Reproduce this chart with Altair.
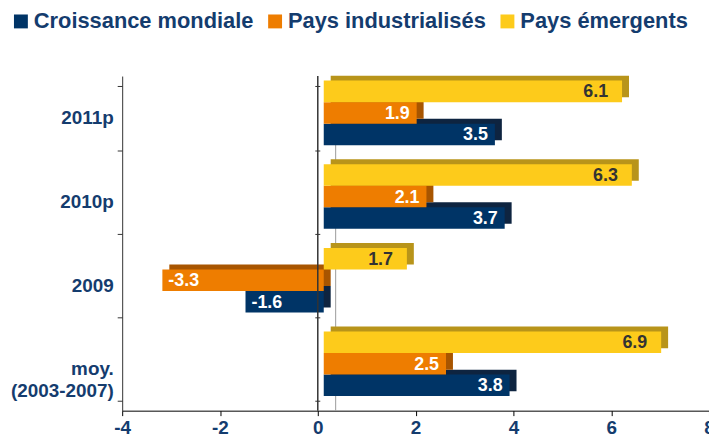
import altair as alt
import pandas as pd

categories = ["2011p", "2010p", "2009", "moy. (2003-2007)"]
series = ["Croissance mondiale", "Pays industrialisés", "Pays émergents"]
croissance = [3.5, 3.7, -1.6, 3.8]
industrialises = [1.9, 2.1, -3.3, 2.5]
emergents = [6.1, 6.3, 1.7, 6.9]
x_ticks = [-4, -2, 0, 2, 4, 6, 8]

colors = ["#003466", "#EE7D00", "#FDCB1B"]
shadow_colors = ["#0E2440", "#A85500", "#B8941A"]
NAVY_TXT = "#143C6E"
FONT = "Liberation Sans"

rows = []
for s, vals in zip(series, [croissance, industrialises, emergents]):
    for c, v in zip(categories, vals):
        rows.append({"cat": c, "series": s, "value": v, "label": f"{v:.1f}"})
df = pd.DataFrame(rows)
zero_df = pd.DataFrame({"z": [0]})

stack_order = ["Pays émergents", "Pays industrialisés", "Croissance mondiale"]

x_enc = alt.X("value:Q", scale=alt.Scale(domain=[-4, 8], nice=False),
              axis=alt.Axis(values=x_ticks, title=None, grid=False,
                            labelExpr="'' + datum.value",
                            labelFontSize=19, labelFont=FONT, labelFontWeight="bold",
                            labelColor=NAVY_TXT, domainColor="#000", tickColor="#000",
                            tickSize=5, labelPadding=3, labelFlush=False))
y_scale = alt.Scale(paddingInner=0.228, paddingOuter=0.114)
y_main = alt.Y("cat:N", sort=categories, scale=y_scale,
               axis=alt.Axis(title=None, orient="left", labelFontSize=19, labelFont=FONT,
                             labelFontWeight="bold", labelColor=NAVY_TXT,
                             domainColor="#333", tickColor="#333", tickSize=5,
                             labelPadding=4, tickBand="extent", labelLineHeight=22,
                             labelExpr="datum.label == 'moy. (2003-2007)' ? ['moy.', '(2003-2007)'] : datum.label"))
y_zero_axis = alt.Y("cat:N", sort=categories, scale=y_scale,
                    axis=alt.Axis(title=None, orient="left", offset=-199, labels=False,
                                  domain=False, tickColor="#333", tickSize=5, tickBand="extent"))
y_plain = alt.Y("cat:N", sort=categories, scale=y_scale, axis=None)


def yoff(rng):
    return alt.YOffset("series:N", sort=stack_order,
                       scale=alt.Scale(domain=stack_order, paddingInner=0, paddingOuter=0, range=rng))


FRONT_RANGE = [-5, 60]
SHADOW_RANGE = [-10, 55]
TEXT_RANGE = [5.8, 49.2]

base = alt.Chart(df)

gray_rule = alt.Chart(zero_df).mark_rule(color="#9a9a9a", strokeWidth=1, xOffset=18).encode(
    x=alt.X("z:Q"))

shadow = base.mark_bar(xOffset=13, x2Offset=13).encode(
    x=x_enc, y=y_plain, yOffset=yoff(SHADOW_RANGE),
    color=alt.Color("series:N", scale=alt.Scale(domain=series, range=shadow_colors), legend=None))

front = base.mark_bar(xOffset=6, x2Offset=6).encode(
    x=x_enc, y=y_main, yOffset=yoff(FRONT_RANGE),
    color=alt.Color("series:N", scale=alt.Scale(domain=series, range=colors),
                    legend=alt.Legend(title=None, orient="none", direction="horizontal",
                                      legendX=-113, legendY=-66, symbolType="square",
                                      symbolSize=196, symbolStrokeWidth=0,
                                      labelFontSize=22, labelFont=FONT, labelLimit=0,
                                      labelFontWeight="bold", labelColor=NAVY_TXT,
                                      labelOffset=2, columnPadding=10, padding=0)))

zero_ticks = base.mark_bar(opacity=0).encode(
    x=alt.X("value:Q"), y=y_zero_axis)

txt_color = alt.condition(alt.datum.series == "Pays émergents", alt.value("#333333"), alt.value("white"))


def labels(filt, align, dx):
    return base.transform_filter(filt).mark_text(
        align=align, baseline="middle", dx=dx, dy=1, fontSize=18, font=FONT, fontWeight="bold").encode(
        x=alt.X("value:Q"), y=y_plain, yOffset=yoff(TEXT_RANGE),
        text=alt.Text("label:N"), color=txt_color)


lab_pos = labels("datum.value > 0 && datum.series != 'Pays émergents'", "right", -1)
lab_yel = labels("datum.value > 0 && datum.series == 'Pays émergents'", "right", -8)
lab_neg = labels("datum.value < 0", "left", 12)

zero_rule = alt.Chart(zero_df).mark_rule(color="#333333", strokeWidth=1.5).encode(
    x=alt.X("z:Q"))

chart = alt.layer(gray_rule, shadow, front, zero_ticks, zero_rule, lab_pos, lab_yel, lab_neg).resolve_scale(
    color="independent", yOffset="independent"
).resolve_axis(y="independent").properties(
    width=591, height=337,
    autosize=alt.AutoSizeParams(type="none"),
    padding={"left": 115, "top": 67, "right": 0, "bottom": 26},
).configure_view(stroke=None)

chart.save("out.html", embed_options={"renderer": "svg", "actions": False})
